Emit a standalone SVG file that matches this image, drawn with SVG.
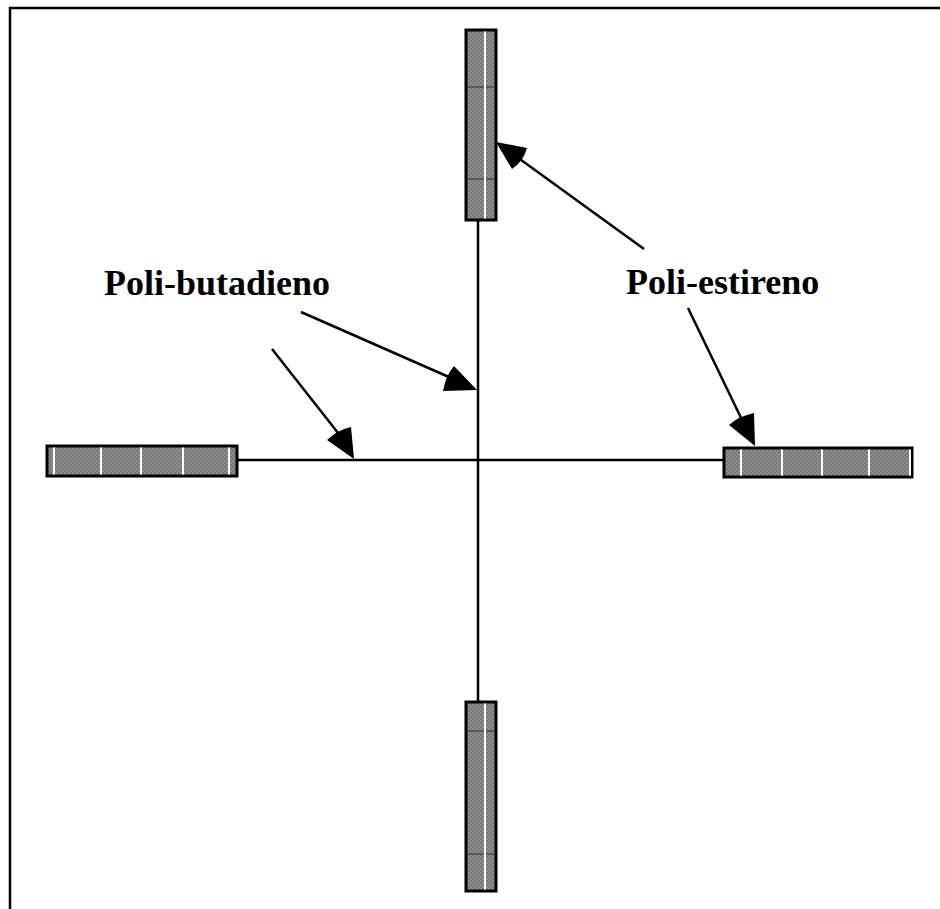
<svg xmlns="http://www.w3.org/2000/svg" width="940" height="909" viewBox="0 0 940 909">
<defs>
<pattern id="chk" width="4" height="4" patternUnits="userSpaceOnUse">
<rect width="4" height="4" fill="#7a7a7a"/>
<rect width="2" height="2" fill="#8c8c8c"/>
<rect x="2" y="2" width="2" height="2" fill="#8c8c8c"/>
</pattern>
</defs>
<style>
.bar{fill:url(#chk);stroke:#000;stroke-width:3}
.wl{stroke:#fff;stroke-width:2}
.dl{stroke:#333;stroke-width:1}
.ln{stroke:#000;stroke-width:2.5;fill:none}
.ah{fill:#000}
.lbl{font-family:"Liberation Serif","Times New Roman",serif;font-weight:bold;font-size:36px;fill:#000}
</style>
<rect x="0" y="0" width="940" height="909" fill="#fff"/>
<rect x="10" y="8" width="940" height="910" fill="none" stroke="#000" stroke-width="2.5"/>
<g id="connectors">
<line class="ln" x1="478" y1="220" x2="478" y2="702"/>
<line class="ln" x1="237" y1="460" x2="724" y2="460"/>
<line class="ln" x1="301" y1="312" x2="458" y2="381"/>
<path class="ah" d="M477,390 L443,391 Q446,375 454,366 Z"/>
<line class="ln" x1="272" y1="349" x2="342" y2="438"/>
<path class="ah" d="M354,459 L327,440 Q337,430 351,427 Z"/>
<line class="ln" x1="644" y1="249" x2="517" y2="157"/>
<path class="ah" d="M496,142 L527,148 Q523,162 512,169 Z"/>
<line class="ln" x1="688" y1="308" x2="744" y2="424"/>
<path class="ah" d="M755,446 L729,425 Q739,416 754,413 Z"/>
</g>
<g id="bar-top">
<rect class="bar" x="466" y="30" width="30" height="190"/>
<line class="dl" x1="467.5" y1="87" x2="494.5" y2="87"/>
<line class="dl" x1="467.5" y1="179" x2="494.5" y2="179"/>
<line class="wl" x1="485" y1="31.5" x2="485" y2="218.5"/>
</g>
<g id="bar-bottom">
<rect class="bar" x="466" y="702" width="30" height="189"/>
<line class="dl" x1="467.5" y1="731" x2="494.5" y2="731"/>
<line class="dl" x1="467.5" y1="854" x2="494.5" y2="854"/>
<line class="wl" x1="485" y1="703.5" x2="485" y2="889.5"/>
</g>
<g id="bar-left">
<rect class="bar" x="47" y="446" width="190" height="30"/>
<line class="wl" x1="54" y1="447.5" x2="54" y2="474.5"/>
<line class="wl" x1="101" y1="447.5" x2="101" y2="474.5"/>
<line class="wl" x1="141" y1="447.5" x2="141" y2="474.5"/>
<line class="wl" x1="183" y1="447.5" x2="183" y2="474.5"/>
<line class="wl" x1="229" y1="447.5" x2="229" y2="474.5"/>
</g>
<g id="bar-right">
<rect class="bar" x="724" y="448" width="188" height="29"/>
<line class="wl" x1="741" y1="449.5" x2="741" y2="475.5"/>
<line class="wl" x1="782" y1="449.5" x2="782" y2="475.5"/>
<line class="wl" x1="822" y1="449.5" x2="822" y2="475.5"/>
<line class="wl" x1="869" y1="449.5" x2="869" y2="475.5"/>
<line class="wl" x1="910" y1="449.5" x2="910" y2="475.5"/>
</g>
<g id="label-butadieno">
<text class="lbl" x="104" y="295">Poli-butadieno</text>
</g>
<g id="label-estireno">
<text class="lbl" x="626" y="294">Poli-estireno</text>
</g>
</svg>
